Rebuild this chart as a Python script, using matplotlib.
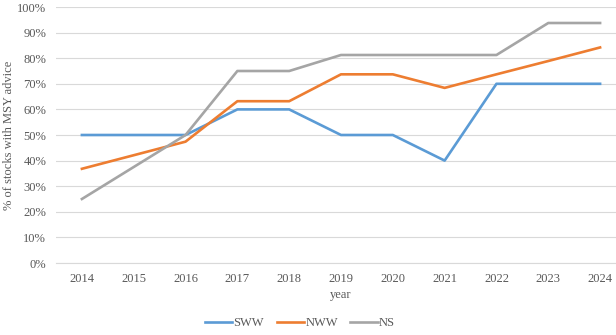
import matplotlib
matplotlib.use("Agg")
import matplotlib.pyplot as plt
from matplotlib.ticker import PercentFormatter

years = [2014, 2015, 2016, 2017, 2018, 2019, 2020, 2021, 2022, 2023, 2024]
sww = [50, 50, 50, 60, 60, 50, 50, 40, 70, 70, 70]
nww = [36.8, 42.1, 47.4, 63.2, 63.2, 73.7, 73.7, 68.4, 73.7, 78.9, 84.2]
ns = [25, 37.5, 50, 75, 75, 81.25, 81.25, 81.25, 81.25, 93.75, 93.75]

plt.rcParams['font.family'] = ['Liberation Serif', 'DejaVu Serif']
txt = '#595959'

fig = plt.figure(figsize=(6.16, 3.35), dpi=100)
ax = fig.add_axes([56/616, 1 - 263/335, 570/616, 256/335])

ax.plot(years, sww, color='#5B9BD5', lw=1.9, label='SWW')
ax.plot(years, nww, color='#ED7D31', lw=1.9, label='NWW')
ax.plot(years, ns, color='#A5A5A5', lw=1.9, label='NS')

ax.set_xlim(2013.5, 2024.5)
ax.set_ylim(0, 100)
ax.set_yticks(range(0, 101, 10))
ax.set_xticks(years)
ax.yaxis.set_major_formatter(PercentFormatter(decimals=0))
ax.grid(axis='y', color='#D9D9D9', lw=0.8)
ax.set_axisbelow(True)
for s in ['top', 'right', 'left']:
    ax.spines[s].set_visible(False)
ax.spines['bottom'].set_color('#D9D9D9')
ax.tick_params(length=0, labelsize=9, labelcolor=txt, pad=7)
ax.set_xlabel('year', fontsize=9, color=txt, labelpad=3)
ax.set_ylabel('% of stocks with MSY advice', fontsize=9, color=txt)
ax.yaxis.set_label_coords(-41/570, 0.5)

fig.legend(loc='center', bbox_to_anchor=(300/616, 1 - 323/335), ncol=3, frameon=False,
           fontsize=9, labelcolor=txt, handlelength=2.2, handletextpad=0.1, columnspacing=1.0)

fig.savefig('out.png', dpi=100)
